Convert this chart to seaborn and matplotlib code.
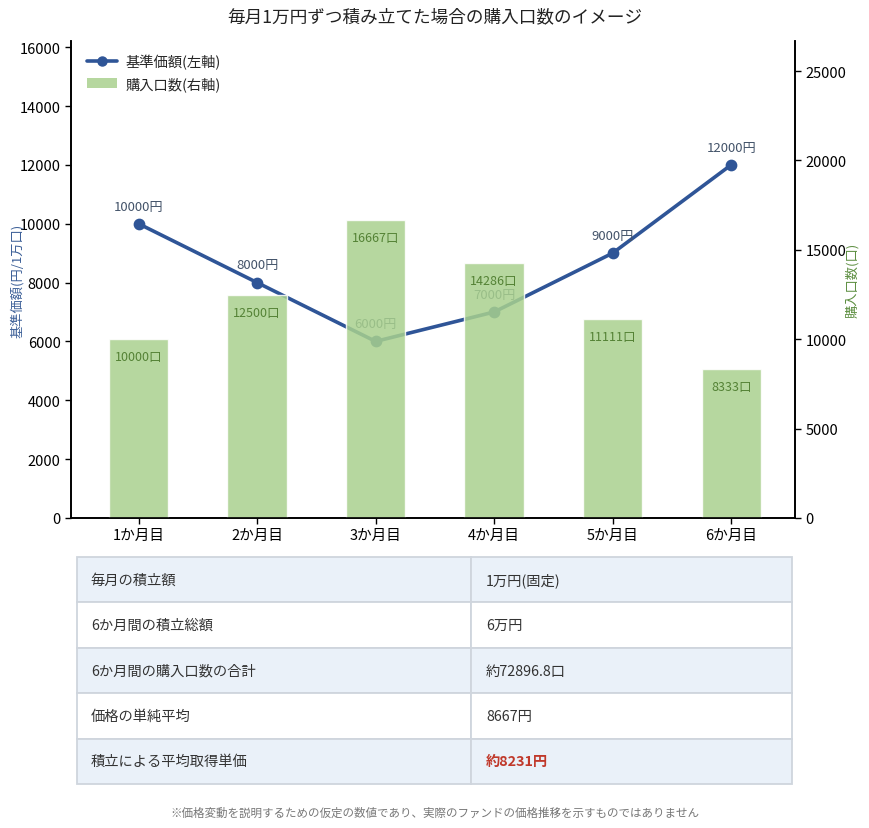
import matplotlib
matplotlib.use('Agg')
import matplotlib.pyplot as plt
import seaborn as sns
import pandas as pd
from matplotlib.lines import Line2D
from matplotlib.patches import Patch

months = ['1か月目', '2か月目', '3か月目', '4か月目', '5か月目', '6か月目']
prices = [10000, 8000, 6000, 7000, 9000, 12000]
units = [10000, 12500, 16667, 14286, 11111, 8333]

table_labels = ['毎月の積立額', '6か月間の積立総額', '6か月間の購入口数の合計', '価格の単純平均', '積立による平均取得単価']
table_values = ['1万円(固定)', '6万円', '約72896.8口', '8667円', '約8231円']

title = '毎月1万円ずつ積み立てた場合の購入口数のイメージ'
note = '※価格変動を説明するための仮定の数値であり、実際のファンドの価格推移を示すものではありません'

LINE_C = '#2f5597'
BAR_C = '#a9d18e'

sns.set_theme(style='white')
plt.rcParams['font.family'] = ['Noto Sans CJK JP', 'DejaVu Sans']

df = pd.DataFrame({'month': months, 'price': prices, 'units': units})

fig = plt.figure(figsize=(8.7, 8.29), dpi=100)
ax = fig.add_axes([0.0816, 0.374, 0.8324, 0.575])
ax2 = ax.twinx()

# line (left axis)
sns.pointplot(data=df, x='month', y='price', order=months, color=LINE_C,
              markers='o', markersize=6.5, linewidth=2.6, ax=ax)
for i, p in enumerate(prices):
    ax.annotate(f'{p}円', (i, p), xytext=(0, 8), textcoords='offset points',
                ha='center', va='bottom', fontsize=9.5, color='#44546a')

# bars (right axis), drawn over the line
sns.barplot(data=df, x='month', y='units', order=months, color=BAR_C,
            alpha=0.85, width=0.5, saturation=1, ax=ax2)
for i, u in enumerate(units):
    ax2.annotate(f'{u}口', (i, u), xytext=(0, -8), textcoords='offset points',
                 ha='center', va='top', fontsize=9, color='#548235')

ax.set_xlim(-0.57, 5.54)
ax.set_ylim(0, max(prices) * 1.35)
ax2.set_ylim(0, max(units) * 1.6)
ax.set_yticks(range(0, 16001, 2000))
ax2.set_yticks(range(0, 25001, 5000))

ax.set_xlabel('')
ax2.set_xlabel('')
ax.set_ylabel('基準価額(円/1万口)', color='#3d6098', fontsize=9.5)
ax2.set_ylabel('購入口数(口)', color='#5e8f42', fontsize=9.5)
ax.yaxis.set_label_coords(-0.065, 0.5)
ax2.yaxis.set_label_coords(1.07, 0.5)

for a in (ax, ax2):
    a.tick_params(axis='both', labelsize=10.5, colors='black', length=4, width=1,
                  left=(a is ax), right=(a is ax2), bottom=True)
    a.spines['top'].set_visible(False)
    for s in ('left', 'right', 'bottom'):
        a.spines[s].set_color('black')
        a.spines[s].set_linewidth(1.2)
ax2.tick_params(axis='y', labelright=True, labelleft=False)

handles = [Line2D([0], [0], color=LINE_C, marker='o', markersize=6.5, linewidth=2.6),
           Patch(facecolor=BAR_C, alpha=0.85, edgecolor='none')]
ax2.legend(handles, ['基準価額(左軸)', '購入口数(右軸)'], loc='upper left',
           frameon=False, fontsize=10.3, bbox_to_anchor=(0.004, 1.0),
           handlelength=2.1, handletextpad=0.6)

fig.text(0.5, 0.979, title, ha='center', va='center', fontsize=12.7, color='#222222')

# summary table
tax = fig.add_axes([0.0885, 0.053, 0.8218, 0.274])
tax.axis('off')
cells = [[lab, val] for lab, val in zip(table_labels, table_values)]
tbl = tax.table(cellText=cells, colWidths=[0.551, 0.449], loc='center',
                cellLoc='left', bbox=[0, 0, 1, 1])
tbl.auto_set_font_size(False)
for (r, c), cell in tbl.get_celld().items():
    cell.set_edgecolor('#cfd5dd')
    cell.set_linewidth(1.3)
    cell.set_facecolor('#eaf1f9' if r % 2 == 0 else 'white')
    cell.PAD = 0.035 if c == 0 else 0.047
    txt = cell.get_text()
    txt.set_fontsize(10.3)
    txt.set_color('#333333')
    if r == len(cells) - 1 and c == 1:
        txt.set_color('#c0392b')
        txt.set_fontweight('bold')

fig.text(0.5, 0.019, note, ha='center', va='center', fontsize=8.3, color='#777777')

fig.savefig('out.png', dpi=100)
